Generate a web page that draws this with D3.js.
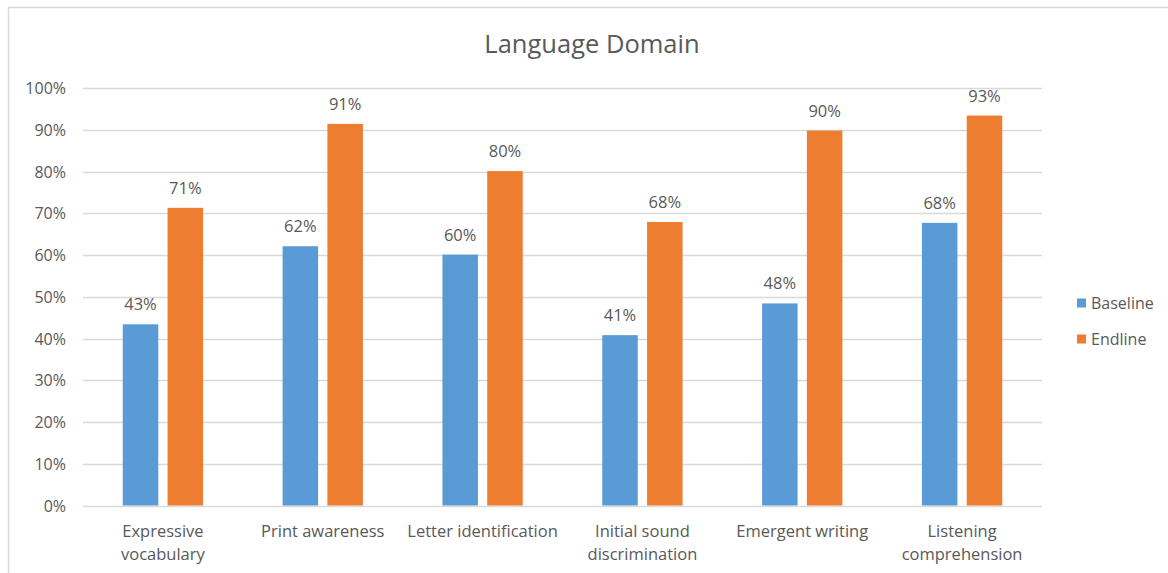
<!DOCTYPE html>
<html>
<head>
<meta charset="utf-8">
<script src="https://cdn.jsdelivr.net/npm/d3@7"></script>
<style>
  html, body { margin: 0; padding: 0; background: #fff; }
  svg { display: block; }
  text { font-family: "Open Sans", sans-serif; fill: #595959; }
</style>
</head>
<body>
<svg id="chart" width="1168" height="573"></svg>
<script>
const categories = [
  ["Expressive", "vocabulary"],
  ["Print awareness"],
  ["Letter identification"],
  ["Initial sound", "discrimination"],
  ["Emergent writing"],
  ["Listening", "comprehension"]
];
const seriesNames = ["Baseline", "Endline"];
const baseline = [0.434, 0.621, 0.601, 0.408, 0.484, 0.677];
const endline  = [0.713, 0.914, 0.801, 0.679, 0.898, 0.934];
const yTicks = [0, 0.1, 0.2, 0.3, 0.4, 0.5, 0.6, 0.7, 0.8, 0.9, 1.0];
const colors = ["#5B9BD5", "#ED7D31"];
const title = "Language Domain";

const svg = d3.select("#chart");

// chart border
svg.append("rect")
  .attr("x", 8.5).attr("y", 7.5)
  .attr("width", 1200).attr("height", 600)
  .attr("fill", "none").attr("stroke", "#D9D9D9").attr("stroke-width", 1.5);

const pLeft = 83, pRight = 1042, pTop = 88, pBottom = 505.5;

const x = d3.scaleBand()
  .domain(d3.range(categories.length))
  .range([pLeft, pRight]);

const y = d3.scaleLinear().domain([0, 1]).range([pBottom, pTop]);

// gridlines
svg.append("g")
  .selectAll("line")
  .data(yTicks)
  .join("line")
  .attr("x1", pLeft).attr("x2", pRight)
  .attr("y1", d => Math.round(y(d)) + 0.5)
  .attr("y2", d => Math.round(y(d)) + 0.5)
  .attr("stroke", "#D9D9D9").attr("stroke-width", 1.3);

// y axis labels
const yAxis = d3.axisLeft(y).tickValues(yTicks).tickFormat(d3.format(".0%")).tickSize(0).tickPadding(17);
const yg = svg.append("g").attr("transform", `translate(${pLeft},0)`).call(yAxis);
yg.select(".domain").remove();
yg.selectAll("text").style("font-size", "16px").style("font-family", "'Open Sans', sans-serif").attr("fill", "#595959").attr("dy", "0.35em");

// bars
const barW = 35.5, gap = 9.3;
const series = [baseline, endline];
series.forEach((vals, si) => {
  const off = si === 0 ? -(gap / 2 + barW) : gap / 2;
  const g = svg.append("g");
  g.selectAll("rect")
    .data(vals)
    .join("rect")
    .attr("x", (d, i) => x(i) + x.bandwidth() / 2 + off)
    .attr("y", d => y(d))
    .attr("width", barW)
    .attr("height", d => y(0) - y(d))
    .attr("fill", colors[si]);
  g.selectAll("text")
    .data(vals)
    .join("text")
    .attr("x", (d, i) => x(i) + x.bandwidth() / 2 + off + barW / 2)
    .attr("y", d => y(d) - 14)
    .attr("text-anchor", "middle")
    .style("font-size", "16.5px")
    .text(d => d3.format(".0%")(d));
});

// x labels
const xl = svg.append("g");
categories.forEach((lines, i) => {
  const t = xl.append("text")
    .attr("x", x(i) + x.bandwidth() / 2)
    .attr("y", 537)
    .attr("text-anchor", "middle")
    .style("font-size", "16.5px");
  lines.forEach((ln, j) => {
    t.append("tspan")
      .attr("x", x(i) + x.bandwidth() / 2)
      .attr("y", 537 + j * 23)
      .text(ln);
  });
});

// title
svg.append("text")
  .attr("x", 592).attr("y", 53)
  .attr("text-anchor", "middle")
  .style("font-size", "25.5px")
  .text(title);

// legend
const lg = svg.append("g");
seriesNames.forEach((name, i) => {
  const cy = 303 + i * 36;
  lg.append("rect").attr("x", 1077).attr("y", cy - 4.5).attr("width", 9).attr("height", 9).attr("fill", colors[i]);
  lg.append("text").attr("x", 1091).attr("y", cy).attr("dy", "0.35em")
    .style("font-size", "16px").text(name);
});
</script>
</body>
</html>
